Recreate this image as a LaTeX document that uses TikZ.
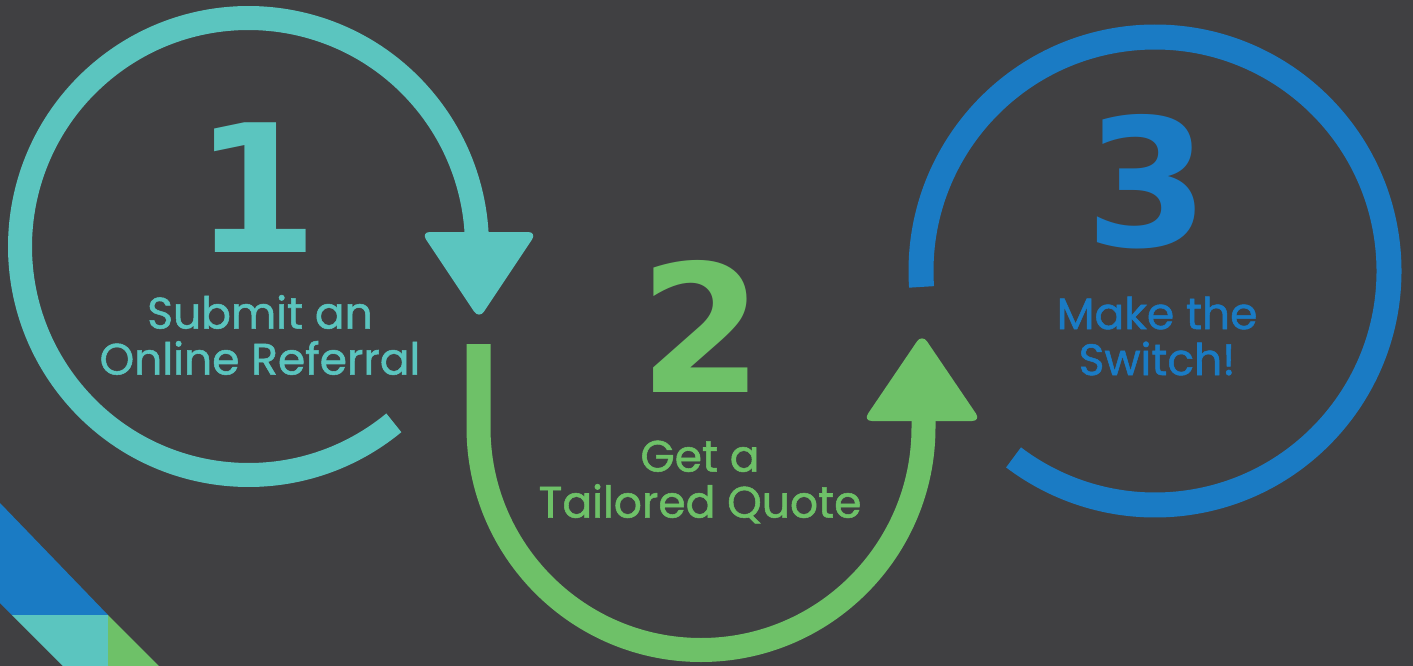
\documentclass[tikz,border=0pt]{standalone}
\usepackage{fontspec}
\setmainfont{Poppins}
\newfontfamily\numfont{DejaVu Sans}
\newfontfamily\txtfont[FakeBold=1.2]{Poppins}
\definecolor{bgc}{HTML}{404042}
\definecolor{teal1}{HTML}{5BC5BF}
\definecolor{green1}{HTML}{6EC168}
\definecolor{blue1}{HTML}{1A7BC4}
\tikzset{
  ring/.style={line width=24pt, line cap=butt},
  tip/.style={rounded corners=9pt},
  bignum/.style={inner sep=0pt, text height=130pt, text depth=0pt, font=\numfont\bfseries\fontsize{178}{178}\selectfont},
  steptext/.style={inner sep=0pt, align=center, font=\txtfont\fontsize{44}{46}\selectfont},
}
\begin{document}
\begin{tikzpicture}[x=1pt,y=-1pt]
\fill[bgc] (0,0) rectangle (1413,666);
\useasboundingbox (0,0) rectangle (1413,666);
% corner shapes
\fill[blue1] (0,503) -- (108,615) -- (12,615) -- (0,603) -- cycle;
\fill[teal1] (12,615) -- (108,615) -- (108,666) -- (63,666) -- cycle;
\fill[green1] (108,615) -- (108,666) -- (159,666) -- cycle;
% ring 1
\draw[ring, teal1] (248.5,246.5) ++(50.5:228.5) arc[start angle=50.5, end angle=358, radius=228.5];
\fill[teal1, tip] (421,232) -- (537,232) -- (479,319) -- cycle;
% ring 2
\draw[ring, green1] (478.5,344) -- (478.5,427.5) arc[start angle=180, end angle=0, radius=222.5] -- (923.5,412);
\fill[green1, tip] (863,421) -- (981,421) -- (922,334) -- cycle;
% ring 3
\draw[ring, line width=25pt, blue1] (1155,271) ++(176.1:234) arc[start angle=176.1, end angle=487.2, radius=234];
% numbers
\node[bignum, text=teal1] (n1) at (256,187) {1};
\node[bignum, text=green1] (n2) at (701,327) {2};
\node[bignum, text=blue1] (n3) at (1147,181) {3};
% labels
\node[steptext, text=teal1] (t1) at (260,335) {Submit an\\Online Referral};
\node[steptext, text=green1] (t2) at (700,482) {Get a\\Tailored Quote};
\node[steptext, text=blue1] (t3) at (1157,336) {Make the\\Switch!};
\end{tikzpicture}
\end{document}
